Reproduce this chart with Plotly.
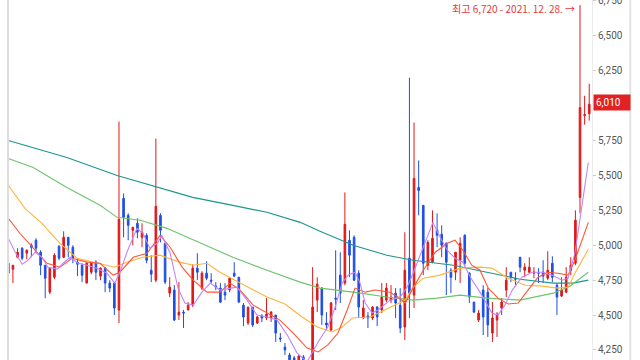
import plotly.graph_objects as go

# ---- candle data (daily, oldest -> newest) ----
opens = [4871,4829,4914,4979,4943,5000,5036,4950,4857,4664,
         4771,4993,4914,5057,4986,4879,4857,4729,4807,4879,
         4779,4836,4729,4729,4536,5336,5214,5107,5157,5057,
         5071,4821,4750,5214,5014,4657,4679,4500,4521,4536,
         4571,4836,4693,4800,4750,4707,4693,4664,4679,4800,
         4771,4571,4443,4557,4443,4493,4479,4479,4500,4336,
         4271,4214,4193,4164,4200,4164,4136,4607,4693,4443,
         4393,4621,4786,4729,5036,5057,4800,4479,4493,4479,
         4557,4536,4607,4607,4657,4571,4414,4907,4643,5414,
         5286,4857,4879,5107,5079,5014,4821,4807,4893,5071,
         4800,4593,4464,4679,4664,4371,4464,4550,4679,4807,
         4764,4914,4821,4807,4800,4800,4807,4764,4871,4714,
         4636,4664,4821,4871,5343,5929,5943]
closes = [4800,4857,4950,4907,4964,4986,4979,4857,4764,4836,
          4929,4907,5057,5000,4907,4864,4786,4871,4871,4807,
          4836,4729,4693,4550,5186,5200,5143,5129,5093,5093,
          4893,4793,5279,5107,4736,4700,4464,4521,4514,4571,
          4836,4807,4800,4764,4743,4700,4593,4643,4764,4779,
          4593,4486,4557,4429,4486,4479,4507,4521,4371,4329,
          4250,4179,4136,4207,4164,4121,4557,4721,4500,4429,
          4586,4614,4657,5150,4929,4750,4557,4550,4479,4557,
          4486,4629,4693,4629,4586,4407,4821,4657,5479,5393,
          4871,5021,5050,5071,5000,4879,4771,4950,5014,4871,
          4629,4521,4514,4486,4429,4479,4507,4593,4750,4771,
          4757,4843,4843,4843,4807,4800,4779,4821,4771,4629,
          4679,4771,4857,5179,5986,5936,6010]
highs = [4886,4857,4979,4986,4971,5014,5050,4964,4857,4843,
         4943,5000,5100,5057,5000,4907,4871,4879,4879,4893,
         4843,4843,4750,4736,5886,5371,5229,5129,5193,5157,
         5086,4929,5764,5229,5014,4771,4714,4736,4536,4593,
         4864,4943,4814,4886,4800,4736,4729,4729,4771,4879,
         4771,4586,4557,4557,4493,4507,4621,4529,4500,4371,
         4300,4229,4207,4214,4214,4179,4843,4771,4700,4521,
         4593,4964,4950,5379,5107,5071,4821,4607,4521,4564,
         4564,4729,4729,4714,4693,4693,5093,6200,5879,5607,
         5286,5036,5250,5229,5143,5021,4836,4950,5057,5079,
         4807,4593,4536,4714,4693,4593,4521,4621,4843,4807,
         4807,4914,4871,4914,4843,4836,4893,4957,4921,4729,
         4771,4843,4914,5250,6720,6071,6157]
lows = [4771,4729,4907,4893,4900,4914,4950,4786,4621,4650,
        4757,4893,4907,4914,4871,4779,4736,4729,4793,4750,
        4750,4664,4664,4500,4443,5057,5036,5000,5050,4986,
        4871,4736,4736,5021,4721,4629,4457,4464,4407,4536,
        4557,4750,4679,4750,4729,4679,4586,4607,4664,4771,
        4586,4421,4429,4414,4436,4450,4464,4450,4307,4307,
        4214,4164,4107,4150,4136,4093,4107,4521,4429,4393,
        4386,4536,4586,4714,4771,4743,4479,4471,4407,4464,
        4421,4514,4593,4586,4479,4371,4321,4479,4550,5214,
        4786,4821,4871,4986,4914,4643,4657,4750,4729,4850,
        4586,4514,4450,4357,4343,4307,4343,4500,4629,4736,
        4714,4807,4771,4800,4764,4729,4729,4750,4736,4500,
        4629,4657,4786,4857,5229,5864,5893]
days = list(range(len(opens)))

# ---- moving averages (day position, value) ----
ma5_day = [0,1.5,3,4.3,5.8,7.3,8.6,10.6,11.9,13.4,15.1,17.1,19.2,21.4,23.1,24.2,25.9,27.9,29.2,30.7,
           32.3,33.3,35.1,36.8,38.3,40.1,42,43.8,45.9,48.1,49.6,51.8,53.9,56.1,58.3,60.5,62.6,64.8,67.2,69.3,
           70.9,72.4,73.7,75.2,76.3,77.4,78.9,80.2,82.8,85,86.5,87.8,89.3,90.8,92.1,93.2,95.2,96.9,98.6,100.2,
           102.3,104.9,106.2,107.7,109.3,111.4,113.6,115.8,117.9,120.1,121.4,122.9,124.5,125.8]
ma5_val = [5050,4950,4864,4893,4950,4914,4843,4829,4871,4914,4871,4857,4836,4800,4729,4807,4964,5121,5086,4979,
           5014,5071,4943,4693,4586,4571,4664,4729,4679,4693,4700,4607,4500,4486,4464,4357,4229,4164,4307,4414,
           4557,4729,4786,4807,4729,4586,4514,4536,4607,4629,4700,4800,4929,5057,5164,5086,4964,4907,4879,4771,
           4664,4514,4500,4571,4679,4771,4807,4807,4786,4750,4764,4943,5321,5593]

ma10_day = [0,2.5,5.4,8.4,11.2,13.8,17.1,19.9,22.7,24.2,27.1,30.1,32.9,35.1,37.7,40.1,43.1,45.9,48.1,50.3,
            53.1,56.1,58.9,61.8,64.8,67.2,69.3,71.5,73.5,75.2,77.4,79.6,82.8,84.5,86.1,87.8,90,92.6,95.2,96.9,
            98.6,100.5,102.3,104.1,106.2,108.4,110.6,112.7,114.9,117.1,119.2,121.4,122.9,125.8]
ma10_val = [5193,5086,4979,4871,4843,4907,4879,4871,4786,4807,4914,4943,5071,4986,4843,4750,4664,4664,4729,4679,
            4571,4514,4464,4371,4264,4236,4286,4371,4536,4693,4664,4679,4664,4629,4586,4693,4821,4950,5014,5036,
            4964,4857,4821,4693,4621,4579,4586,4679,4771,4807,4800,4786,4893,5164]

ma20_day = [0,3.6,7.3,11.2,14.9,18.4,23.1,25.7,29.2,32.9,37.2,40.1,43.1,45.9,50.3,56.1,60,63.7,67,70.2,
            72.4,74.6,78.5,81.7,86.1,87.8,90,93.6,98,102.3,104.9,108.4,112.1,115.8,119.2,121.4,122.9,125.8]
ma20_val = [5429,5264,5157,5014,4907,4879,4843,4879,4914,4929,4879,4857,4871,4807,4729,4629,4579,4486,4414,4379,
            4414,4479,4486,4536,4607,4700,4764,4786,4836,4843,4836,4764,4714,4707,4693,4700,4800,4971]

ma60_day = [0,5.4,12.7,19.9,23.6,28.6,34.4,41.6,48.7,56.1,63.3,67.6,74.8,82.1,87.8,93,98,103.8,111,118.2,121.8,125.8]
ma60_val = [5621,5557,5414,5286,5200,5179,5121,5014,4914,4821,4736,4693,4664,4629,4607,4621,4643,4621,4607,4657,4707,4807]

ma120_day = [0,5.4,12.7,23.6,32.3,40,48.7,56.1,63.3,67.6,74.8,82.1,87.8,96.5,103.8,111,118.2,122.5,125.8]
ma120_val = [5750,5700,5629,5500,5414,5343,5286,5236,5164,5100,5000,4929,4893,4857,4807,4757,4729,4729,4750]

ytick_vals = [4250,4500,4750,5000,5250,5500,5750,6250,6500,6750]

high_label = "최고 6,720 - 2021. 12. 28. →"
last_label = "6,010"

fig = go.Figure()

ma_specs = [
    (ma120_day, ma120_val, "#1a968e"),
    (ma60_day, ma60_val, "#6cc46c"),
    (ma20_day, ma20_val, "#ffb43a"),
    (ma10_day, ma10_val, "#ff5533"),
    (ma5_day, ma5_val, "#c184ff"),
]
for dx, dv, col in ma_specs:
    fig.add_trace(go.Scatter(x=dx, y=dv, mode="lines",
                             line=dict(color=col, width=1.1), hoverinfo="skip"))

fig.add_trace(go.Candlestick(
    x=days, open=opens, high=highs, low=lows, close=closes,
    increasing=dict(line=dict(color="#e01818", width=1), fillcolor="#e01818"),
    decreasing=dict(line=dict(color="#1f4fe3", width=1), fillcolor="#1f4fe3"),
    whiskerwidth=0,
))

fig.add_annotation(x=days[opens.index(5343)], y=1, xref="x", yref="paper",
                   text=high_label, showarrow=False, xanchor="right", yanchor="top",
                   xshift=-3, yshift=1, font=dict(color="#e3393c", size=10, family="Noto Sans CJK KR"))
fig.add_annotation(x=1, y=closes[-1], xref="paper", yref="y", text=last_label,
                   showarrow=False, xanchor="left", yanchor="middle", xshift=1, yshift=2,
                   bgcolor="#e02222", borderpad=2, width=32, align="left",
                   font=dict(color="white", size=10, family="Roboto"))

fig.add_shape(type="line", xref="paper", yref="paper", x0=0, x1=0, y0=0, y1=1,
              line=dict(color="#dcdcdc", width=2))
fig.add_shape(type="line", xref="paper", yref="paper", x0=1.0655, x1=1.0655, y0=0, y1=1,
              line=dict(color="#e2e2e2", width=2))

fig.update_layout(
    width=640, height=360,
    margin=dict(l=8, r=48, t=0, b=0, autoexpand=False),
    plot_bgcolor="white", paper_bgcolor="white",
    showlegend=False,
    boxgap=0.5,
    xaxis=dict(range=[-0.07, 126.6], showticklabels=False, showgrid=False, automargin=False,
               zeroline=False, showline=False, rangeslider=dict(visible=False), ticks=""),
    yaxis=dict(side="right", range=[4178, 6757], tickvals=ytick_vals, tickformat=",d",
               automargin=False, ticklabeloverflow="allow",
               ticks="outside", ticklen=3, tickcolor="#cccccc", showgrid=False, zeroline=False,
               showline=True, linecolor="#ececec", linewidth=1,
               tickfont=dict(size=10, color="#555555", family="Roboto")),
)

fig.write_html("out.html", config={"displayModeBar": False},
               post_script="document.body.style.margin='0px';")
